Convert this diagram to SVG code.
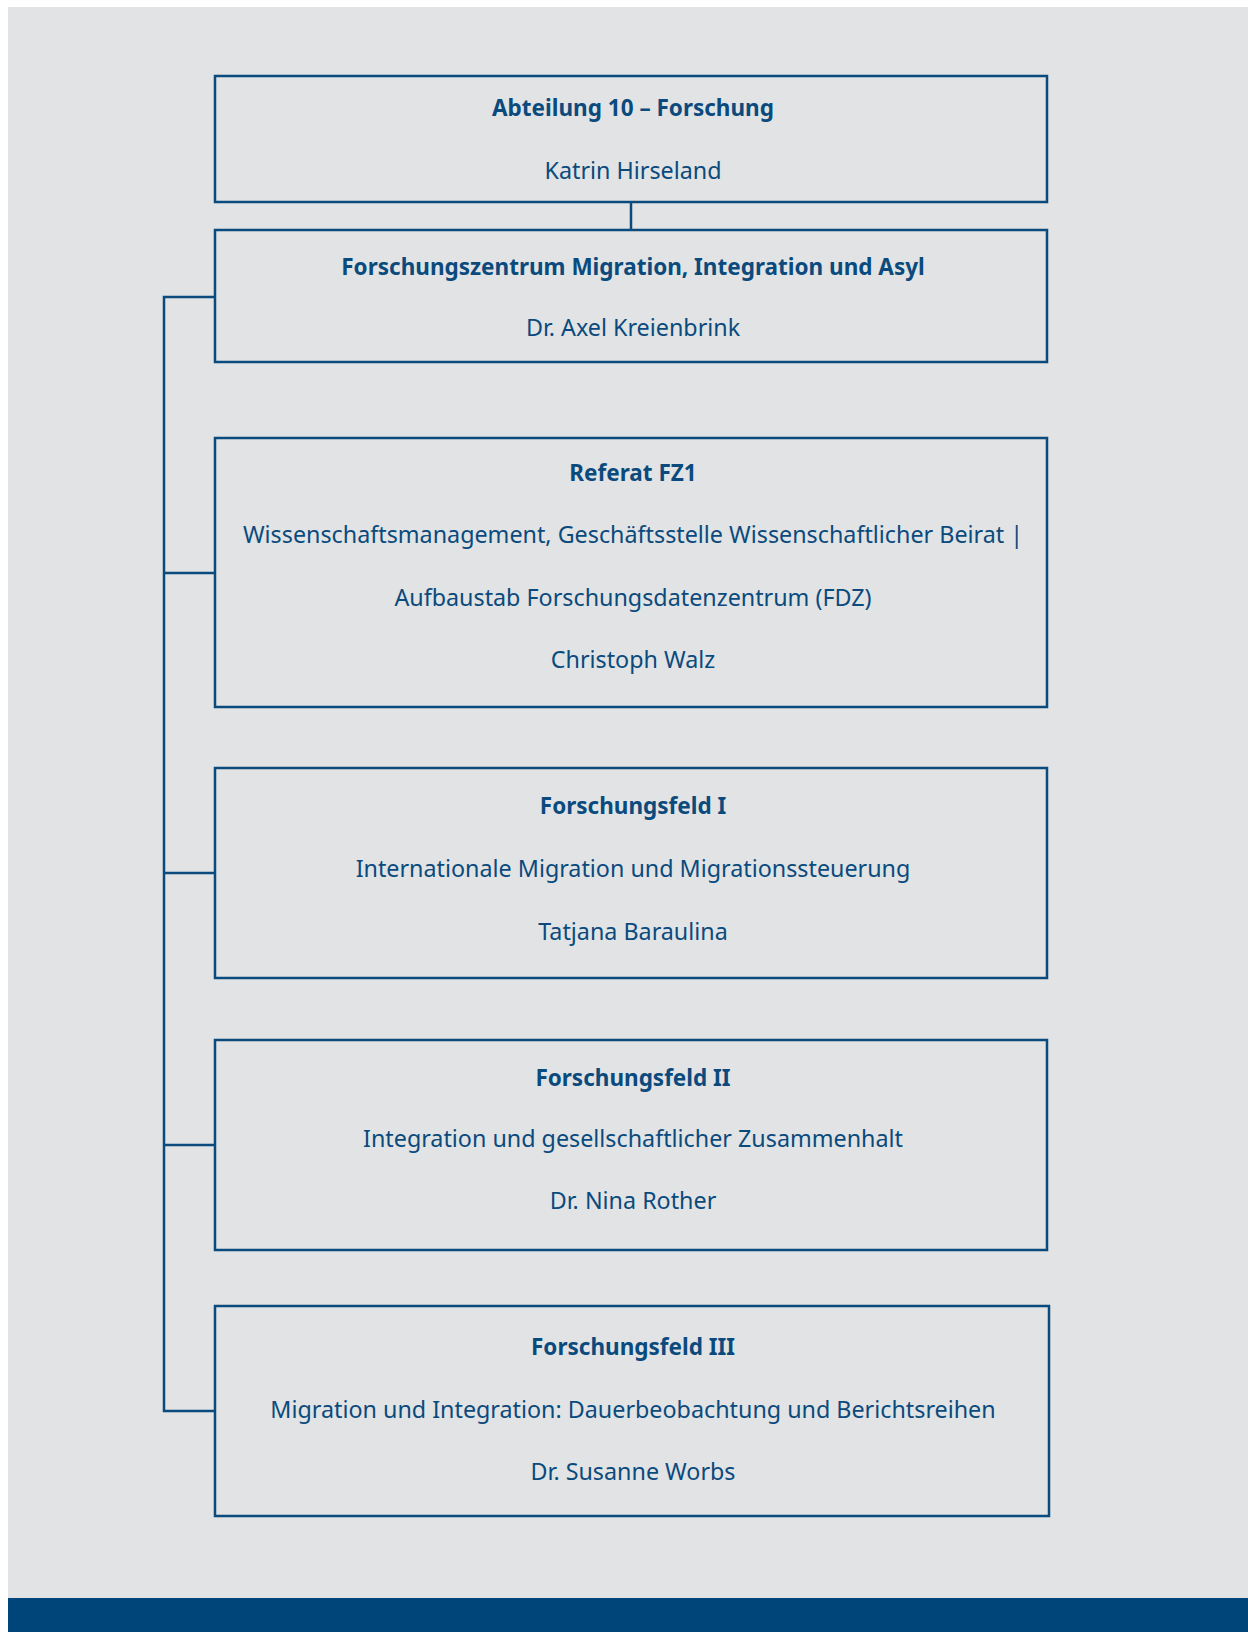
<svg xmlns="http://www.w3.org/2000/svg" width="1248" height="1632" viewBox="0 0 1248 1632">
<style>
.box{fill:none;stroke:#0b4a7c;stroke-width:2.5}
.con{fill:none;stroke:#0b4a7c;stroke-width:2.5}
text{font-family:"Noto Sans","Open Sans",sans-serif;font-size:23.3px;fill:#0b4a7c;text-anchor:middle}
.b{font-weight:700;font-size:22.5px}
</style>
<rect x="0" y="0" width="1248" height="1632" fill="#ffffff"/>
<rect x="8" y="7" width="1240" height="1592" fill="#e1e3e5"/>
<rect x="8" y="1598" width="1240" height="34" fill="#00457a"/>
<g id="connectors">
<path class="con" d="M631 202V230"/>
<path class="con" d="M215 297H164V1411H215"/>
<path class="con" d="M164 573H215M164 873H215M164 1145H215"/>
</g>
<g id="n1">
<rect class="box" x="215" y="76" width="832" height="126"/>
<text class="b" x="633" y="116">Abteilung 10 – Forschung</text>
<text x="633" y="179">Katrin Hirseland</text>
</g>
<g id="n2">
<rect class="box" x="215" y="230" width="832" height="132"/>
<text class="b" x="633" y="275">Forschungszentrum Migration, Integration und Asyl</text>
<text x="633" y="336">Dr. Axel Kreienbrink</text>
</g>
<g id="n3">
<rect class="box" x="215" y="438" width="832" height="269"/>
<text class="b" x="633" y="481">Referat FZ1</text>
<text x="633" y="543">Wissenschaftsmanagement, Geschäftsstelle Wissenschaftlicher Beirat |</text>
<text x="633" y="606">Aufbaustab Forschungsdatenzentrum (FDZ)</text>
<text x="633" y="668">Christoph Walz</text>
</g>
<g id="n4">
<rect class="box" x="215" y="768" width="832" height="210"/>
<text class="b" x="633" y="814">Forschungsfeld I</text>
<text x="633" y="877">Internationale Migration und Migrationssteuerung</text>
<text x="633" y="940">Tatjana Baraulina</text>
</g>
<g id="n5">
<rect class="box" x="215" y="1040" width="832" height="210"/>
<text class="b" x="633" y="1086">Forschungsfeld II</text>
<text x="633" y="1147">Integration und gesellschaftlicher Zusammenhalt</text>
<text x="633" y="1209">Dr. Nina Rother</text>
</g>
<g id="n6">
<rect class="box" x="215" y="1306" width="834" height="210"/>
<text class="b" x="633" y="1355">Forschungsfeld III</text>
<text x="633" y="1418">Migration und Integration: Dauerbeobachtung und Berichtsreihen</text>
<text x="633" y="1480">Dr. Susanne Worbs</text>
</g>
</svg>
